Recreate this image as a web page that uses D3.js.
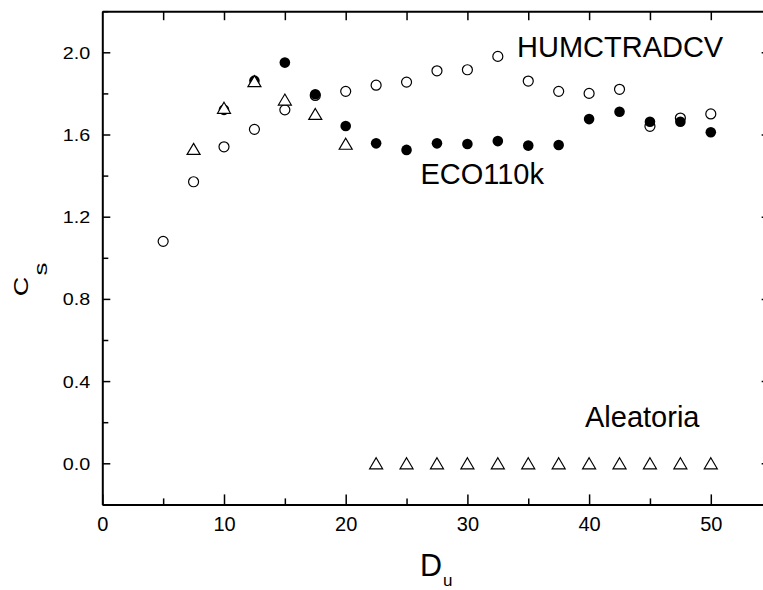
<!DOCTYPE html>
<html>
<head>
<meta charset="utf-8">
<script src="https://cdn.jsdelivr.net/npm/d3@7"></script>
<style>
  html, body { margin: 0; padding: 0; background: #fff; }
  svg { display: block; }
  text { font-family: "Liberation Sans", Arial, sans-serif; fill: #000; }
</style>
</head>
<body>
<svg id="chart" width="763" height="590"></svg>
<script>
// ---- data ----
const humX = [5, 7.5, 10, 12.5, 15, 17.5, 20, 22.5, 25, 27.5, 30, 32.5, 35, 37.5, 40, 42.5, 45, 47.5, 50];
const humY = [1.08, 1.37, 1.54, 1.625, 1.72, 1.79, 1.81, 1.84, 1.855, 1.91, 1.915, 1.98, 1.86, 1.81, 1.80, 1.82, 1.64, 1.68, 1.70];

const ecoX = [10, 12.5, 15, 17.5, 20, 22.5, 25, 27.5, 30, 32.5, 35, 37.5, 40, 42.5, 45, 47.5, 50];
const ecoY = [1.72, 1.862, 1.95, 1.796, 1.641, 1.557, 1.525, 1.557, 1.554, 1.568, 1.546, 1.549, 1.675, 1.711, 1.662, 1.662, 1.611];

const aleX = [7.5, 10, 12.5, 15, 17.5, 20, 22.5, 25, 27.5, 30, 32.5, 35, 37.5, 40, 42.5, 45, 47.5, 50];
const aleY = [1.53, 1.73, 1.86, 1.77, 1.70, 1.555, 0, 0, 0, 0, 0, 0, 0, 0, 0, 0, 0, 0];

const xMajorTicks = [0, 10, 20, 30, 40, 50];
const xMinorTicks = [5, 15, 25, 35, 45, 55];
const xTopTicks = [5, 10, 15, 20, 25, 30, 35, 40, 45, 50];
const yMajorTicks = [0.0, 0.4, 0.8, 1.2, 1.6, 2.0];
const yMinorTicks = [-0.2, 0.2, 0.6, 1.0, 1.4, 1.8, 2.2];

const seriesLabels = [
  { text: "HUMCTRADCV", x: 517, y: 56.7 },
  { text: "ECO110k", x: 420.4, y: 184.3 },
  { text: "Aleatoria", x: 585, y: 426.7 }
];

// ---- layout ----
const pLeft = 102.3, pRight = 102.3 + 55 * 12.17, pTop = 11.2, pBottom = 504.4;
const svg = d3.select("#chart");

const x = d3.scaleLinear().domain([0, 55]).range([pLeft, pRight]);
const y = d3.scaleLinear().domain([-0.2, 2.2]).range([pBottom, pTop]);

function styleAxis(g) {
  g.select(".domain").attr("stroke", "#000").attr("stroke-width", 2);
  g.selectAll(".tick line").attr("stroke", "#000").attr("stroke-width", 1.5);
}

// bottom axis
const gb = svg.append("g").attr("transform", `translate(0,${pBottom})`)
  .call(d3.axisBottom(x).tickValues(xMajorTicks).tickSizeInner(-10).tickSizeOuter(0).tickFormat(d3.format("d")));
styleAxis(gb);
gb.selectAll(".tick text").attr("y", 26.7).attr("dy", 0).attr("font-size", 20)
  .attr("font-family", "Liberation Sans, Arial, sans-serif");
svg.append("g").attr("transform", `translate(0,${pBottom})`)
  .call(d3.axisBottom(x).tickValues(xMinorTicks).tickSizeInner(-6).tickSizeOuter(0).tickFormat(""))
  .call(g => { g.select(".domain").remove(); g.selectAll(".tick line").attr("stroke", "#000").attr("stroke-width", 1.5); });

// top axis
const gt = svg.append("g").attr("transform", `translate(0,${pTop})`)
  .call(d3.axisTop(x).tickValues(xTopTicks).tickSizeInner(-9).tickSizeOuter(0).tickFormat(""));
styleAxis(gt);

// left axis
const gl = svg.append("g").attr("transform", `translate(${pLeft},0)`)
  .call(d3.axisLeft(y).tickValues(yMajorTicks).tickSizeInner(-8).tickSizeOuter(0).tickFormat(d3.format(".1f")));
styleAxis(gl);
gl.selectAll(".tick text").attr("x", -10.5).attr("dy", "0.35em").attr("font-size", 17)
  .attr("transform", "scale(1.16,1)")
  .attr("font-family", "Liberation Sans, Arial, sans-serif");
svg.append("g").attr("transform", `translate(${pLeft},0)`)
  .call(d3.axisLeft(y).tickValues(yMinorTicks).tickSizeInner(-6).tickSizeOuter(0).tickFormat(""))
  .call(g => { g.select(".domain").remove(); g.selectAll(".tick line").attr("stroke", "#000").attr("stroke-width", 1.5); });

// right axis
const gr = svg.append("g").attr("transform", `translate(${pRight},0)`)
  .call(d3.axisRight(y).tickValues(yMajorTicks).tickSizeInner(-10).tickSizeOuter(0).tickFormat(""));
styleAxis(gr);

// ---- marks ----
const hum = humX.map((d, i) => [d, humY[i]]);
const eco = ecoX.map((d, i) => [d, ecoY[i]]);
const ale = aleX.map((d, i) => [d, aleY[i]]);

svg.append("g").selectAll("circle").data(hum).join("circle")
  .attr("cx", d => x(d[0])).attr("cy", d => y(d[1])).attr("r", 5)
  .attr("fill", "#fff").attr("stroke", "#000").attr("stroke-width", 1.2);

svg.append("g").selectAll("circle").data(eco).join("circle")
  .attr("cx", d => x(d[0])).attr("cy", d => y(d[1])).attr("r", 5.3)
  .attr("fill", "#000").attr("stroke", "none");

const tri = "M0,-5.5 L6.5,5.5 L-6.5,5.5 Z";
svg.append("g").selectAll("path").data(ale).join("path")
  .attr("d", tri)
  .attr("transform", d => `translate(${x(d[0])},${y(d[1])})`)
  .attr("fill", "#fff").attr("stroke", "#000").attr("stroke-width", 1.2);

// ---- series labels ----
svg.append("g").selectAll("text").data(seriesLabels).join("text")
  .attr("x", d => d.x).attr("y", d => d.y)
  .attr("font-size", 29)
  .text(d => d.text);

// ---- axis titles ----
const yt = svg.append("text")
  .attr("transform", "translate(28.3,296.3) rotate(-90) scale(1.35,1)")
  .attr("font-size", 20);
yt.append("tspan").text("C");
yt.append("tspan").attr("font-size", 19).attr("dx", 1).attr("dy", 18.4).text("s");

const xt = svg.append("text").attr("x", 420).attr("y", 575.5).attr("font-size", 30.5);
xt.append("tspan").text("D");
xt.append("tspan").attr("font-size", 17).attr("dx", 1).attr("dy", 10.5).text("u");
</script>
</body>
</html>
